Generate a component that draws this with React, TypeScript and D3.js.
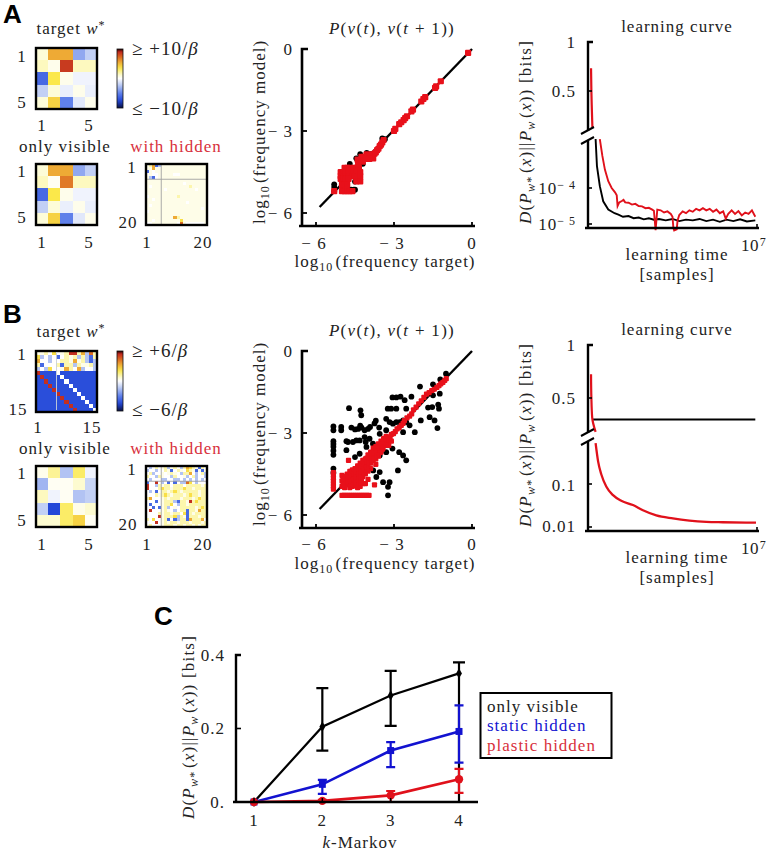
import React from 'react';
import * as d3 from 'd3';

type Pt = [number, number];

// ---- heatmaps: 5x5 as numbers (-1..1), larger ones as letter grids
const levels: Record<string, number> = { B: -0.72, b: -0.6, l: -0.25, w: 0, p: 0.06, y: 0.18, Y: 0.38, o: 0.55, O: 0.72, r: 0.88 };

const targetA = [
    [0.1, 0.55, 0.55, -0.35, -0.2],
    [0.15, 0.05, 0.85, 0.15, 0.15],
    [-0.6, 0.35, 0.05, -0.05, -0.05],
    [-0.2, 0.1, -0.07, 0.05, -0.07],
    [0.1, 0.42, -0.5, -0.1, 0.05],
];
const visibleA = [
    [0.1, 0.55, 0.55, -0.35, -0.2],
    [0.15, 0.03, 0.68, 0.15, 0.15],
    [-0.6, 0.35, 0.05, -0.05, -0.05],
    [-0.2, 0.1, -0.07, 0.05, -0.07],
    [0.1, 0.42, -0.5, -0.1, 0.05],
];
const visibleB = [
    [0.05, 0.22, -0.25, 0.3, -0.05],
    [-0.3, 0.03, 0.03, 0.12, -0.18],
    [0.15, -0.05, 0.03, -0.25, -0.2],
    [-0.2, -0.75, 0.3, 0.06, 0.12],
    [0.12, 0.12, 0.3, 0.42, 0.03],
];
const hiddenA = [
    'pyoblppppppppppppppp',
    'ppoppppppppppppppppp',
    'bpwppppppppppppppppp',
    'wpwwpppppwwppppppppp',
    'plbwpppppppppppppppp',
    'pppppppppppppppppppp',
    'ppppppppppppwppppppp',
    'pwppppppppppppyppppp',
    'ppppppwpppppppppwppp',
    'pppppppppppppppppppp',
    'wpppppppppyppppppppp',
    'ppwppppppppppppppppp',
    'pppppppppppppwpppppp',
    'pwpppppppppppppppppp',
    'ppppppppppppppppppwp',
    'wppppppppppppppppppp',
    'pppppppppppppppppppp',
    'pppppppppoyppppppppp',
    'ppwppppppppYpppppppp',
    'wwppppppppwOpwwwwwwp',
];
const hiddenB = [
    'wlwywpylpywlyoYypbyw',
    'lwwlwwypbwypwYypbpbp',
    'wylwwpwpypwlyyowlwyl',
    'ywwlypwwlywwplwylwwl',
    'wlwwwllwwllwlwlwlwlw',
    'bwwrwlwbwbwllOYwlwww',
    'rwwlypyywyyywyyyyypy',
    'rwwwyYyypyyyYyypyyyy',
    'wlwbwyypyYypyyyyypyy',
    'wwwypyYypyyypyYyypyy',
    'yowwwpypyyypyyypyYyy',
    'wwwbwpyyylbyypryYyyy',
    'wbwwwpyyYwlyypyyyyyy',
    'wwbwbpylwpwyyyyypyYy',
    'wrwwwpypwlwyybyypoyy',
    'wwwwypyypyywYbypyyyy',
    'wwwwrpyyyYlypbyyypyy',
    'ywYwwpybwblyyboyyyow',
    'wwwrwpypyypyyypyyypy',
    'pywwwpyyypyypyypypyy',
];
const targetB = [
    'ppywYwpyrryolOy',
    'Ylwlwbwypylylby',
    'owwlwwyypopylbl',
    'ybwwwybyylyppyl',
    'lwlYwwpoywolwwl',
    'rBBBBwBBBBBBBBB',
    'BrBBBBwBBBBBBBB',
    'BBrBBBBwBBBBBBB',
    'BBBrBBBBwBBBBBB',
    'BBBBrBBBBwBBBBB',
    'BBBBBrBBBBwBBBB',
    'BBBBBBrBBBBwBBB',
    'BBBBBBBrBBBBwBB',
    'BBBBBBBBrBBBBwB',
    'BBBBBBBBBrBBBBw',
];

// ---- scatter panels, log10(target) vs log10(model)
const scatterBlackA: Pt[] = [
    [-5.3, -4.95], [-5.3, -5.05], [-5.3, -5.2], [-4.95, -5.15], [-4.85, -5.15], [-4.75, -5.15], [-4.65, -5.15], [-4.55, -5.15], [-4.5, -5.15],
    [-4.5, -4.85], [-4.3, -4.6], [-4.3, -4.2], [-4.2, -4.2], [-4.45, -4.0], [-4.3, -3.85], [-4.05, -3.8], [-3.9, -3.85], [-3.45, -3.27], [-3.35, -3.3],
    [-4.7, -4.2], [-4.6, -4.65], [-4.45, -4.7], [-4.75, -4.75],
];
const scatterRedA: Pt[] = [
    [-0.15, -0.14], [-1.2, -1.18], [-1.38, -1.37], [-1.42, -1.42], [-1.8, -1.76], [-1.87, -1.83], [-1.95, -1.92], [-2.27, -2.22], [-2.33, -2.28],
    [-2.5, -2.46], [-2.57, -2.53], [-2.63, -2.6], [-2.72, -2.68], [-2.8, -2.75], [-2.95, -2.92], [-3.0, -3.0], [-3.4, -3.33], [-3.45, -3.42],
    [-3.5, -3.5], [-3.55, -3.55], [-3.6, -3.65], [-3.65, -3.7], [-3.7, -3.78], [-3.75, -3.83], [-3.85, -3.85], [-3.95, -3.9], [-4.05, -3.85],
    [-4.15, -3.95], [-4.25, -3.95], [-4.3, -4.1], [-3.8, -4.0], [-3.95, -4.02], [-4.1, -4.02], [-4.2, -4.12], [-4.4, -4.05], [-4.38, -4.2],
    [-4.9, -4.35], [-4.8, -4.35], [-4.7, -4.35], [-4.55, -4.35], [-4.45, -4.35], [-4.35, -4.35],
    [-5.05, -4.5], [-4.95, -4.5], [-4.85, -4.5], [-4.75, -4.5], [-4.65, -4.5], [-4.55, -4.5], [-4.45, -4.5], [-4.3, -4.5],
    [-5.05, -4.65], [-4.95, -4.65], [-4.85, -4.65], [-4.75, -4.65], [-4.6, -4.65], [-4.5, -4.65], [-4.4, -4.65], [-4.3, -4.65],
    [-5.05, -4.75], [-4.95, -4.75], [-4.85, -4.75], [-4.75, -4.75], [-4.45, -4.84], [-4.3, -4.84],
    [-5.0, -4.97], [-4.9, -4.97], [-4.8, -4.97], [-5.3, -5.2], [-5.0, -5.2], [-4.9, -5.2], [-4.8, -5.2], [-4.7, -5.2], [-4.6, -5.2],
];
const scatterBlackB: Pt[] = [
    [-5.33, -2.76], [-5.33, -2.9], [-5.33, -3.3], [-5.33, -3.4], [-5.33, -3.5], [-5.33, -3.65], [-5.33, -3.8], [-5.33, -4.3], [-5.33, -4.45],
    [-5.03, -2.78], [-5.03, -2.9], [-4.73, -2.09], [-4.29, -2.17], [-4.26, -2.35], [-4.64, -2.8], [-4.5, -2.87], [-4.38, -2.85], [-4.25, -2.8],
    [-4.13, -2.9], [-4.0, -2.85], [-4.3, -2.73], [-3.92, -2.78], [-3.75, -2.65], [-3.7, -2.55], [-3.57, -2.8], [-3.3, -2.48], [-3.24, -2.11],
    [-3.11, -2.11], [-3.06, -1.7], [-2.91, -1.7], [-2.75, -1.67], [-2.59, -1.8], [-2.33, -1.67], [-2.91, -2.11], [-2.53, -2.11], [-3.17, -2.6],
    [-3.04, -2.66], [-2.91, -2.6], [-2.78, -2.6], [-2.65, -2.54], [-2.53, -2.6], [-2.4, -2.72], [-2.2, -2.97], [-2.65, -2.97], [-2.0, -1.3],
    [-1.5, -1.22], [-1.22, -1.04], [-1.0, -0.83], [-1.24, -1.56], [-1.5, -1.62], [-1.69, -2.07], [-1.53, -2.05], [-1.3, -1.96], [-1.27, -2.11],
    [-1.97, -2.54], [-1.63, -2.42], [-1.44, -2.54], [-1.33, -2.82], [-3.3, -2.9], [-3.55, -3.03], [-4.77, -3.33], [-4.58, -3.33], [-4.45, -3.27],
    [-4.83, -3.3], [-4.32, -3.27], [-4.13, -3.15], [-4.09, -3.33], [-3.94, -3.21], [-3.81, -3.39], [-4.06, -3.51], [-4.83, -3.63], [-4.5, -3.88],
    [-4.32, -3.76], [-3.75, -3.63], [-3.55, -3.82], [-3.3, -3.7], [-3.06, -3.57], [-2.8, -3.7], [-2.65, -3.82], [-2.53, -4.0], [-2.85, -4.37],
    [-3.42, -4.8], [-3.17, -4.8], [-3.68, -4.61], [-3.23, -4.97], [-3.23, -5.28], [-3.55, -4.43], [-3.8, -4.37],
];
const scatterRedB: Pt[] = [
    [-0.99, -1.01], [-1.05, -1.08], [-1.12, -1.15], [-1.2, -1.2], [-1.27, -1.27], [-1.35, -1.33], [-1.45, -1.4], [-1.55, -1.45], [-1.65, -1.52],
    [-1.75, -1.58], [-1.85, -1.7], [-1.95, -1.82], [-2.05, -1.93], [-2.15, -2.05], [-2.25, -2.15], [-2.32, -2.3], [-2.4, -2.38], [-2.5, -2.45],
    [-2.6, -2.55], [-2.65, -2.65], [-2.72, -2.72], [-2.8, -2.8], [-2.88, -2.85], [-2.95, -2.95], [-3.02, -3.02], [-3.1, -3.05], [-3.15, -3.15],
    [-3.22, -3.2], [-3.28, -3.28], [-3.35, -3.3], [-3.4, -3.4], [-3.1, -3.3], [-3.2, -3.45], [-3.4, -3.2],
    [-3.5, -3.3], [-3.5, -3.5], [-3.5, -3.7], [-3.6, -3.4], [-3.6, -3.6], [-3.6, -3.85], [-3.7, -3.5], [-3.7, -3.7], [-3.7, -3.95], [-3.7, -4.15],
    [-3.8, -3.55], [-3.8, -3.8], [-3.8, -4.0], [-3.9, -3.7], [-3.9, -3.9], [-3.9, -4.1], [-3.9, -4.3], [-4.0, -3.8], [-4.0, -4.0], [-4.0, -4.2],
    [-4.0, -4.4], [-4.0, -4.7], [-4.1, -3.95], [-4.1, -4.15], [-4.1, -4.3], [-4.1, -4.5], [-4.1, -4.85], [-4.2, -4.0], [-4.2, -4.2], [-4.2, -4.4],
    [-4.2, -4.6], [-4.2, -4.85], [-4.3, -4.1], [-4.3, -4.3], [-4.3, -4.5], [-4.3, -4.7], [-4.3, -4.95], [-4.4, -4.2], [-4.4, -4.4], [-4.4, -4.6],
    [-4.4, -4.8], [-4.4, -5.0], [-4.5, -4.3], [-4.5, -4.5], [-4.5, -4.7], [-4.5, -4.9], [-4.6, -4.35], [-4.6, -4.55], [-4.6, -4.75], [-4.6, -4.95],
    [-4.7, -4.4], [-4.7, -4.6], [-4.7, -4.8], [-4.7, -5.0], [-4.8, -4.5], [-4.8, -4.7], [-4.8, -4.9], [-4.9, -4.6], [-4.9, -4.8], [-4.9, -5.0],
    [-5.0, -4.55], [-5.0, -4.75], [-5.0, -4.95], [-4.75, -4.0], [-3.75, -4.9],
    [-3.45, -3.4], [-3.45, -3.6], [-3.55, -3.5], [-3.55, -3.72], [-3.65, -3.55], [-3.65, -3.8], [-3.75, -3.65], [-3.75, -3.88], [-3.85, -3.72], [-3.85, -3.95],
    [-3.95, -3.85], [-3.95, -4.05], [-4.05, -3.92], [-4.05, -4.1], [-4.05, -4.3], [-4.15, -4.05], [-4.15, -4.25], [-4.15, -4.45], [-4.25, -4.12], [-4.25, -4.32],
    [-4.25, -4.52], [-4.25, -4.72], [-4.35, -4.22], [-4.35, -4.42], [-4.35, -4.62], [-4.35, -4.82], [-4.45, -4.3], [-4.45, -4.5], [-4.45, -4.7], [-4.45, -4.9],
    [-4.55, -4.42], [-4.55, -4.62], [-4.55, -4.82], [-4.65, -4.5], [-4.65, -4.7], [-4.65, -4.9], [-4.75, -4.55], [-4.75, -4.75], [-4.85, -4.6], [-4.85, -4.8],
    [-4.95, -4.68], [-4.95, -4.88], [-3.3, -3.12], [-3.3, -3.45], [-3.42, -3.55],
    [-5.0, -5.28], [-4.92, -5.28], [-4.84, -5.28], [-4.76, -5.28], [-4.68, -5.28], [-4.6, -5.28], [-4.52, -5.28], [-4.44, -5.28], [-4.36, -5.28],
    [-4.28, -5.28], [-4.2, -5.28], [-4.12, -5.28], [-4.04, -5.28], [-3.96, -5.28],
    [-5.33, -4.45], [-5.33, -4.55], [-5.33, -4.65], [-5.33, -4.75], [-5.33, -4.85], [-5.33, -4.95], [-5.33, -5.05],
];
const diagonal: Pt[] = [[-5.86, -5.78], [0, 0]];

// ---- learning curves: [fraction of 10^7 samples, value]; upper part in bits, lower part as log10(bits)
const curveRedUpperA: Pt[] = [[0.018, 0.733], [0.02, 0.5], [0.023, 0.3], [0.026, 0.13]];
const curveRedLowerA: Pt[] = [
    [0.07, -2.64], [0.085, -3.11], [0.1, -3.49], [0.12, -3.81], [0.14, -4.0], [0.16, -4.12], [0.17, -4.2], [0.175, -4.5], [0.185, -4.4], [0.2, -4.36],
    [0.21, -4.33], [0.22, -4.4], [0.24, -4.41], [0.26, -4.46], [0.28, -4.44], [0.3, -4.5], [0.32, -4.51], [0.34, -4.56], [0.36, -4.55], [0.38, -4.6],
    [0.39, -4.63], [0.4, -5.17], [0.41, -4.6], [0.43, -4.62], [0.45, -4.68], [0.47, -4.65], [0.49, -4.72], [0.5, -4.8], [0.505, -5.1], [0.51, -5.18],
    [0.525, -5.15], [0.53, -4.9], [0.54, -4.75], [0.56, -4.65], [0.58, -4.7], [0.6, -4.62], [0.62, -4.66], [0.64, -4.58], [0.66, -4.62], [0.68, -4.56],
    [0.7, -4.62], [0.72, -4.58], [0.74, -4.66], [0.76, -4.6], [0.78, -4.7], [0.8, -4.65], [0.815, -4.85], [0.83, -4.72], [0.85, -4.62], [0.87, -4.72],
    [0.89, -4.64], [0.91, -4.76], [0.93, -4.68], [0.95, -4.72], [0.97, -4.62], [0.99, -4.8],
];
const curveBlackLowerA: Pt[] = [
    [0.045, -2.64], [0.053, -3.39], [0.07, -3.95], [0.09, -4.37], [0.12, -4.6], [0.157, -4.7], [0.18, -4.74], [0.207, -4.8], [0.24, -4.78], [0.27, -4.84],
    [0.3, -4.82], [0.33, -4.87], [0.36, -4.84], [0.39, -4.88], [0.42, -4.86], [0.46, -4.9], [0.5, -4.86], [0.54, -4.92], [0.58, -4.88], [0.62, -4.9],
    [0.66, -4.86], [0.7, -4.92], [0.74, -4.88], [0.78, -4.94], [0.82, -4.88], [0.86, -4.92], [0.9, -4.87], [0.94, -4.93], [0.99, -4.9],
];
const curveRedUpperB: Pt[] = [[0.018, 0.725], [0.02, 0.5], [0.025, 0.3125], [0.045, 0.18]];
const curveBlackUpperB: Pt[] = [[0.03, 0.297], [0.99, 0.297]];
const curveRedLowerB: Pt[] = [
    [0.045, -0.047], [0.06, -0.48], [0.08, -0.79], [0.108, -1.06], [0.148, -1.26], [0.197, -1.39], [0.266, -1.49], [0.325, -1.61], [0.404, -1.73],
    [0.502, -1.8], [0.6, -1.85], [0.7, -1.88], [0.797, -1.89], [0.994, -1.9],
];

// ---- panel C
const kValues = [1, 2, 3, 4];
const onlyVisible = [0, 0.205, 0.29, 0.35];
const onlyVisibleLow = [0, 0.14, 0.207, 0];
const onlyVisibleHigh = [0, 0.31, 0.357, 0.38];
const staticHidden = [0, 0.048, 0.14, 0.192];
const staticHiddenLow = [0, 0.022, 0.095, 0.107];
const staticHiddenHigh = [0, 0.06, 0.163, 0.263];
const plasticHidden = [0, 0.003, 0.018, 0.062];
const plasticHiddenLow = [0, 0, 0, 0.025];
const plasticHiddenHigh = [0, 0.006, 0.03, 0.09];

const serif = "'Liberation Serif', serif";
const ink = '#222';
const red = '#e0111b';
const labelRed = '#d8303c';
const blue = '#1212d0';

const colorOf = d3
    .scaleLinear<string>()
    .domain([-1, -0.75, -0.5, -0.2, 0, 0.12, 0.35, 0.55, 0.75, 0.9, 1])
    .range(['#0a1040', '#2347d8', '#5f80ea', '#c2d0f5', '#ffffff', '#fdfbd0', '#fbe84a', '#eeaa35', '#d8601f', '#c0281f', '#200000']);

const T = (p: any) => (
    <text fontFamily={serif} fontSize={17} letterSpacing={1} fill={ink} {...p} />
);

const Sub = ({ children, up = 3.5, size = 12 }: any) => (
    <>
        <tspan dy={up} fontSize={size}>{children}</tspan>
        <tspan dy={-up}>{'\u200a'}</tspan>
    </>
);

const I = ({ children }: any) => <tspan fontStyle="italic">{children}</tspan>;

const Heatmap = ({ x, y, size, rows, lines }: { x: number; y: number; size: number; rows: (number[] | string)[]; lines?: boolean }) => {
    const n = rows.length;
    const band = d3.scaleBand<number>().domain(d3.range(n)).range([0, size]);
    const cut = band(5)!;
    return (
        <g transform={`translate(${x},${y})`}>
            {rows.map((row, r) =>
                Array.from(row as any).map((c: any, k) => (
                    <rect
                        key={k}
                        x={band(k)}
                        y={band(r)}
                        width={band.bandwidth()}
                        height={band.bandwidth()}
                        shapeRendering="crispEdges"
                        fill={colorOf(typeof c === 'string' ? levels[c] : c)}
                    />
                ))
            )}
            {lines && <line x1={0} x2={size} y1={cut} y2={cut} stroke="#a0a0a0" strokeWidth={0.9} />}
            {lines && <line x1={cut} x2={cut} y1={0} y2={size} stroke="#a0a0a0" strokeWidth={0.9} />}
            <rect width={size} height={size} fill="none" stroke="#000" strokeWidth={2.4} />
        </g>
    );
};

const Colorbar = ({ x, y, h, id }: { x: number; y: number; h: number; id: string }) => {
    const stops = d3.range(-1, 1.01, 0.1);
    return (
        <g>
            <defs>
                <linearGradient id={id} x1="0" y1="1" x2="0" y2="0">
                    {stops.map((s) => (
                        <stop key={s} offset={(s + 1) / 2} stopColor={colorOf(s)} />
                    ))}
                </linearGradient>
            </defs>
            <rect x={x} y={y} width={6} height={h} fill={`url(#${id})`} stroke="#111" strokeWidth={0.8} />
        </g>
    );
};

const Scatter = ({ top, black, reds, size, dy }: { top: number; black: Pt[]; reds: Pt[]; size: number; dy: number[] }) => {
    const x = d3.scaleLinear().domain([-6, 0]).range([316, 472]);
    const y = d3.scaleLinear().domain([-6, 0]).range([top + 164, top]);
    const base = top + 177;
    const line = d3.line<Pt>().x((d) => x(d[0])).y((d) => y(d[1]));
    const ticks = [-6, -3, 0];
    const cx = 302;
    return (
        <g>
            <T x={392} y={top - 15} textAnchor="middle" letterSpacing={1.3}>
                <I>P</I>(<I>v</I>(<I>t</I>), <I>v</I>(<I>t</I> + 1))
            </T>
            {black.map((d, i) => <circle key={i} cx={x(d[0])} cy={y(d[1])} r={2.9} fill="#000" />)}
            <path d={line(diagonal)!} stroke="#000" strokeWidth={2.4} fill="none" />
            {reds.map((d, i) => (
                <rect key={i} x={x(d[0]) - size / 2} y={y(d[1]) - size / 2} width={size} height={size} rx={1} fill="#e8101a" />
            ))}
            <path d={`M${cx + 6},${y(0)}H${cx}V${base}`} stroke="#000" strokeWidth={2.6} fill="none" />
            <path d={`M299,${base}H475`} stroke="#000" strokeWidth={2.6} fill="none" />
            {ticks.map((t) => (
                <g key={t}>
                    <line x1={cx} x2={cx + 5} y1={y(t)} y2={y(t)} stroke="#000" strokeWidth={1.8} />
                    <line x1={x(t)} x2={x(t)} y1={base} y2={base - 4} stroke="#000" strokeWidth={1.8} />
                    <T x={293} y={y(t) + dy[0]} textAnchor="end">{t === 0 ? '0' : `\u2212 ${-t}`}</T>
                    <T x={x(t) - (t === 0 ? 0 : 2)} y={base + dy[1]} textAnchor="middle">{t === 0 ? '0' : `\u2212 ${-t}`}</T>
                </g>
            ))}
            <T x={385} y={base + dy[2]} textAnchor="middle">
                log<Sub>10</Sub>(frequency target)
            </T>
            <T transform={`translate(265,${top + 83}) rotate(-90)`} textAnchor="middle">
                log<Sub>10</Sub>(frequency model)
            </T>
        </g>
    );
};

const KLLabel = ({ x, y }: { x: number; y: number }) => (
    <T transform={`translate(${x},${y}) rotate(-90)`} textAnchor="middle" letterSpacing={1.2}>
        <I>D</I>(<I>P</I><Sub><I>w</I>*</Sub>(<I>x</I>)||<I>P</I><Sub><I>w</I></Sub>(<I>x</I>)) [bits]
    </T>
);

type LearningProps = {
    y1: number; y05: number; breakTop: number; breakLow: number; base: number;
    lowTicks: { v: number; y: number; label: React.ReactNode }[];
    lowerScale: d3.ScaleLinear<number, number>;
    upper: { pts: Pt[]; color: string }[];
    lower: { pts: Pt[]; color: string }[];
    tickTexts: number[]; noisy: boolean;
};

const Learning = ({ y1, y05, breakTop, breakLow, base, lowTicks, lowerScale, upper, lower, tickTexts, noisy }: LearningProps) => {
    const x = d3.scaleLinear().domain([0, 1]).range([588, 757]);
    const yUp = d3.scaleLinear().domain([0.5, 1]).range([y05, y1]);
    const lineUp = d3.line<Pt>().x((d) => x(d[0])).y((d) => yUp(d[1])).curve(d3.curveMonotoneY);
    const lineLow = d3.line<Pt>().x((d) => x(d[0])).y((d) => lowerScale(d[1]));
    if (!noisy) lineLow.curve(d3.curveMonotoneX);
    return (
        <g>
            <T x={677} y={y1 - 10} textAnchor="middle">learning curve</T>
            {upper.map((s, i) => <path key={i} d={lineUp(s.pts)!} fill="none" stroke={s.color} strokeWidth={2.2} />)}
            {lower.map((s, i) => <path key={i} d={lineLow(s.pts)!} fill="none" stroke={s.color} strokeWidth={noisy ? 1.9 : 2.3} />)}
            <path d={`M593,${y1}H588V${breakTop}`} fill="none" stroke="#000" strokeWidth={2.4} />
            <path d={`M588,${breakLow}V${base}`} fill="none" stroke="#000" strokeWidth={2.4} />
            <path d={`M581,${breakTop + 3}L594,${breakTop - 4}M581,${breakLow + 3}L594,${breakLow - 4}`} stroke="#000" strokeWidth={2} />
            <path d={`M585,${base}H759`} stroke="#000" strokeWidth={2.4} />
            <line x1={757} x2={757} y1={base} y2={base - 4} stroke="#000" strokeWidth={1.6} />
            <line x1={588} x2={592} y1={y05} y2={y05} stroke="#000" strokeWidth={1.6} />
            {lowTicks.map((t, i) => (
                <g key={i}>
                    <line x1={588} x2={592} y1={t.y} y2={t.y} stroke="#000" strokeWidth={1.6} />
                    <T x={576} y={tickTexts[i + 2]} textAnchor="end">{t.label}</T>
                </g>
            ))}
            <T x={576} y={tickTexts[0]} textAnchor="end">1</T>
            <T x={576} y={tickTexts[1]} textAnchor="end">0.5</T>
            <T x={741} y={base + 23} letterSpacing={0.4}>10<tspan dy={-5} dx={1} fontSize={12}>7</tspan></T>
            <T x={677} y={base + 32} textAnchor="middle">learning time</T>
            <T x={677} y={base + 52} textAnchor="middle">[samples]</T>
        </g>
    );
};

const PanelC = () => {
    const x = d3.scaleLinear().domain([1, 4]).range([254, 459]);
    const y = d3.scaleLinear().domain([0, 0.4]).range([802, 655]);
    const line = d3.line<number>().x((_, i) => x(kValues[i])).y((d) => y(d));
    const series = [
        { v: onlyVisible, lo: onlyVisibleLow, hi: onlyVisibleHigh, c: '#000', w: 2.2, cap: 6 },
        { v: staticHidden, lo: staticHiddenLow, hi: staticHiddenHigh, c: blue, w: 2.6, cap: 4.5 },
        { v: plasticHidden, lo: plasticHiddenLow, hi: plasticHiddenHigh, c: red, w: 2.6, cap: 4.5 },
    ];
    const square = d3.symbol().type(d3.symbolSquare).size(49)()!;
    const circle = d3.symbol().type(d3.symbolCircle).size(55)()!;
    const diamond = d3.symbol().type(d3.symbolDiamond).size(30)()!;
    const marks = [diamond, square, circle];
    return (
        <g>
            {series.map((s, si) => (
                <g key={si}>
                    {kValues.map((k, i) => (i === 0 ? null : (
                        <path
                            key={k}
                            d={`M${x(k) - s.cap},${y(s.hi[i])}H${x(k) + s.cap}M${x(k)},${y(s.hi[i])}V${y(s.lo[i])}M${x(k) - s.cap},${y(s.lo[i])}H${x(k) + s.cap}`}
                            stroke={s.c}
                            strokeWidth={2.2}
                            fill="none"
                        />
                    )))}
                    <path d={line(s.v)!} stroke={s.c} strokeWidth={s.w} fill="none" />
                    {kValues.map((k, i) => (
                        <path key={k} d={marks[si]} transform={`translate(${x(k)},${y(s.v[i])})`} fill={s.c} />
                    ))}
                </g>
            ))}
            <path d={`M241,${y(0.4)}H236V${y(0)}`} fill="none" stroke="#000" strokeWidth={2.4} />
            <path d={`M233,802H478`} stroke="#000" strokeWidth={2.4} />
            <line x1={236} x2={241} y1={y(0.2)} y2={y(0.2)} stroke="#000" strokeWidth={1.6} />
            {kValues.map((k) => (
                <g key={k}>
                    <line x1={x(k)} x2={x(k)} y1={802} y2={798} stroke="#000" strokeWidth={1.5} />
                    <T x={x(k)} y={826} textAnchor="middle">{k}</T>
                </g>
            ))}
            <T x={225} y={661} textAnchor="end">0.4</T>
            <T x={225} y={734} textAnchor="end">0.2</T>
            <T x={225} y={808} textAnchor="end">0.</T>
            <T x={360} y={848} textAnchor="middle"><I>k</I>-Markov</T>
            <KLLabel x={194} y={727} />
            <rect x={480.5} y={693} width={131} height={65} fill="#fff" stroke="#000" strokeWidth={2} />
            <T x={487} y={712}>only visible</T>
            <T x={487} y={731} fill={blue}>static hidden</T>
            <T x={487} y={751} fill={labelRed}>plastic hidden</T>
        </g>
    );
};

const PanelLetter = ({ x, y, children }: any) => (
    <text x={x} y={y} fontFamily="'Liberation Sans', sans-serif" fontWeight="bold" fontSize={26} fill="#000">{children}</text>
);

export default function App() {
    const lowA = d3.scaleLinear().domain([-5, -4]).range([224, 188]);
    const lowB = d3.scaleLinear().domain([-2, -1]).range([527, 484]);
    return (
        <svg width={768} height={853} style={{ position: 'absolute', left: 0, top: 0, background: '#fff' }}>
            {/* panel A, matrices */}
            <PanelLetter x={3} y={23}>A</PanelLetter>
            <T x={71} y={34} textAnchor="middle">target <I>w</I><tspan dy={-5} fontSize={12}>*</tspan></T>
            <Heatmap x={36} y={48} size={61} rows={targetA} />
            <T x={22} y={62} textAnchor="middle">1</T>
            <T x={22} y={108} textAnchor="middle">5</T>
            <T x={42} y={131} textAnchor="middle">1</T>
            <T x={89} y={131} textAnchor="middle">5</T>
            <Colorbar x={117} y={49} h={59} id="barA" />
            <T x={132} y={55} fontSize={19}>{'\u2265 +10/'}<I>β</I></T>
            <T x={132} y={115} fontSize={19}>{'\u2264 \u221210/'}<I>β</I></T>
            <T x={65} y={152} textAnchor="middle">only visible</T>
            <T x={176} y={152} textAnchor="middle" fill={labelRed}>with hidden</T>
            <Heatmap x={36} y={164} size={61} rows={visibleA} />
            <T x={22} y={177} textAnchor="middle">1</T>
            <T x={22} y={223} textAnchor="middle">5</T>
            <T x={42} y={248} textAnchor="middle">1</T>
            <T x={89} y={248} textAnchor="middle">5</T>
            <Heatmap x={146} y={164} size={61} rows={hiddenA} lines />
            <T x={132} y={173} textAnchor="middle">1</T>
            <T x={128} y={228} textAnchor="middle">20</T>
            <T x={147} y={248} textAnchor="middle">1</T>
            <T x={203} y={248} textAnchor="middle">20</T>

            <Scatter top={49} black={scatterBlackA} reds={scatterRedA} size={6.2} dy={[6, 23, 41]} />
            <KLLabel x={531} y={132} />
            <Learning
                y1={42} y05={91} breakTop={131} breakLow={141} base={228}
                lowerScale={lowA}
                lowTicks={[
                    { v: -4, y: lowA(-4), label: <>10<tspan dy={-5} fontSize={12}>{'\u2212 4'}</tspan></> },
                    { v: -5, y: lowA(-5), label: <>10<tspan dy={-5} fontSize={12}>{'\u2212 5'}</tspan></> },
                ]}
                upper={[{ pts: curveRedUpperA, color: red }]}
                lower={[{ pts: curveBlackLowerA, color: '#000' }, { pts: curveRedLowerA, color: red }]}
                tickTexts={[48, 97, 194, 230]}
                noisy
            />

            {/* panel B, matrices */}
            <PanelLetter x={3} y={323}>B</PanelLetter>
            <T x={71} y={337} textAnchor="middle">target <I>w</I><tspan dy={-5} fontSize={12}>*</tspan></T>
            <Heatmap x={36} y={351} size={61} rows={targetB} lines={false} />
            <line x1={56.5} x2={56.5} y1={352} y2={410} stroke="#c8d0d8" strokeWidth={0.9} />
            <T x={22} y={360} textAnchor="middle">1</T>
            <T x={18} y={415} textAnchor="middle">15</T>
            <T x={38} y={433} textAnchor="middle">1</T>
            <T x={92} y={433} textAnchor="middle">15</T>
            <Colorbar x={117} y={351} h={60} id="barB" />
            <T x={132} y={357} fontSize={19}>{'\u2265 +6/'}<I>β</I></T>
            <T x={132} y={416} fontSize={19}>{'\u2264 \u22126/'}<I>β</I></T>
            <T x={65} y={454} textAnchor="middle">only visible</T>
            <T x={176} y={454} textAnchor="middle" fill={labelRed}>with hidden</T>
            <Heatmap x={36} y={466} size={61} rows={visibleB} />
            <T x={22} y={479} textAnchor="middle">1</T>
            <T x={22} y={526} textAnchor="middle">5</T>
            <T x={42} y={550} textAnchor="middle">1</T>
            <T x={89} y={550} textAnchor="middle">5</T>
            <Heatmap x={146} y={466} size={61} rows={hiddenB} lines />
            <T x={132} y={475} textAnchor="middle">1</T>
            <T x={128} y={530} textAnchor="middle">20</T>
            <T x={147} y={550} textAnchor="middle">1</T>
            <T x={203} y={550} textAnchor="middle">20</T>

            <Scatter top={351} black={scatterBlackB} reds={scatterRedB} size={5.2} dy={[6, 22, 41]} />
            <KLLabel x={531} y={435} />
            <Learning
                y1={345} y05={398} breakTop={433} breakLow={442} base={531}
                lowerScale={lowB}
                lowTicks={[
                    { v: -1, y: lowB(-1), label: '0.1' },
                    { v: -2, y: lowB(-2), label: '0.01' },
                ]}
                upper={[{ pts: curveBlackUpperB, color: '#000' }, { pts: curveRedUpperB, color: red }]}
                lower={[{ pts: curveRedLowerB, color: red }]}
                tickTexts={[351, 404, 491, 532]}
                noisy={false}
            />

            <PanelLetter x={154} y={625}>C</PanelLetter>
            <PanelC />
        </svg>
    );
}
